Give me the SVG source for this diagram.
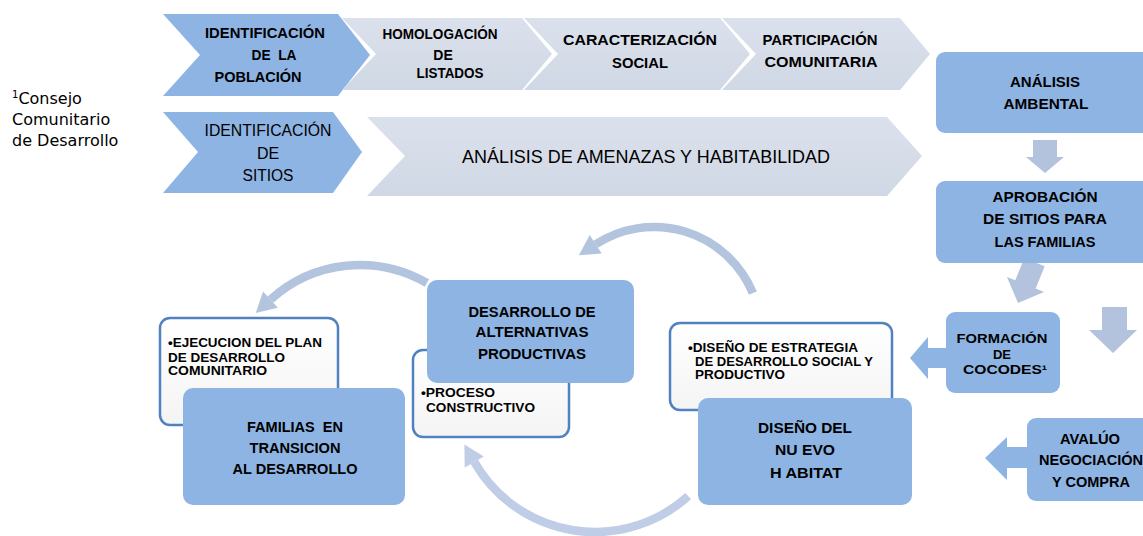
<svg xmlns="http://www.w3.org/2000/svg" width="1143" height="536" viewBox="0 0 1143 536">
<style>
.b{font-family:"Liberation Sans",Arial,sans-serif;font-weight:bold;fill:#000;text-anchor:middle}
.l{font-family:"Liberation Sans",Arial,sans-serif;font-weight:bold;fill:#000}
.n{font-family:"Liberation Sans",Arial,sans-serif;font-weight:normal;fill:#000;text-anchor:middle}
.blue{fill:#8eb4e3}
.gray{fill:url(#gg)}
.wbox{fill:url(#wg);stroke:#5182bf;stroke-width:2.5}
.arc{fill:none;stroke:#b3c4df;stroke-width:8.5}
.arch{fill:#b3c4df}
.arcl{fill:none;stroke:#bfcde6;stroke-width:8.5}
.archl{fill:#bfcde6}
.garr{fill:#b3c3de}
.barr{fill:#8eb4e3}
.note{font-family:"DejaVu Sans",sans-serif;font-size:16px;fill:#000}
</style>
<defs>
<linearGradient id="gg" x1="0" y1="0" x2="0" y2="1"><stop offset="0" stop-color="#dbe1ec"/><stop offset="1" stop-color="#d0d8e5"/></linearGradient>
<linearGradient id="wg" x1="0" y1="0" x2="0" y2="1"><stop offset="0" stop-color="#ffffff"/><stop offset="1" stop-color="#f4f4f4"/></linearGradient>
</defs>

<g id="note">
<text class="note" x="12" y="104"><tspan font-size="10" dy="-6">1</tspan><tspan dy="6">Consejo</tspan></text>
<text class="note" x="12" y="125">Comunitario</text>
<text class="note" x="12" y="146">de Desarrollo</text>
</g>

<g id="chev-identificacion-poblacion">
<polygon class="blue" points="163,14 338,14 370,55 338,96 163,96 200,55"/>
<text class="b" font-size="14.5" x="265" y="38" textLength="120" lengthAdjust="spacingAndGlyphs">IDENTIFICACIÓN</text>
<text class="b" font-size="14.5" x="274" y="60" textLength="45" lengthAdjust="spacingAndGlyphs" xml:space="preserve">DE  LA</text>
<text class="b" font-size="14.5" x="258" y="82" textLength="87" lengthAdjust="spacingAndGlyphs">POBLACIÓN</text>
</g>
<g id="chev-homologacion">
<polygon class="gray" points="342,18 522,18 552,54 522,90 342,90 376,54"/>
<text class="b" font-size="14" x="440" y="39" textLength="115" lengthAdjust="spacingAndGlyphs">HOMOLOGACIÓN</text>
<text class="b" font-size="14" x="443" y="60">DE</text>
<text class="b" font-size="14" x="450" y="78" textLength="67" lengthAdjust="spacingAndGlyphs">LISTADOS</text>
</g>
<g id="chev-caracterizacion">
<polygon class="gray" points="524,18 720,18 750,54 720,90 524,90 558,54"/>
<text class="b" font-size="15" x="640" y="45" textLength="154" lengthAdjust="spacingAndGlyphs">CARACTERIZACIÓN</text>
<text class="b" font-size="15" x="640" y="68" textLength="56" lengthAdjust="spacingAndGlyphs">SOCIAL</text>
</g>
<g id="chev-participacion">
<polygon class="gray" points="722,18 900,18 930,54 900,90 722,90 756,54"/>
<text class="b" font-size="14" x="820" y="45" textLength="115" lengthAdjust="spacingAndGlyphs">PARTICIPACIÓN</text>
<text class="b" font-size="14" x="821" y="67" textLength="113" lengthAdjust="spacingAndGlyphs">COMUNITARIA</text>
</g>
<g id="chev-identificacion-sitios">
<polygon class="blue" points="163,112 333,112 362,152 333,193 163,193 198,152"/>
<text class="n" font-size="16" x="268" y="136" textLength="127" lengthAdjust="spacingAndGlyphs">IDENTIFICACIÓN</text>
<text class="n" font-size="16" x="268" y="159">DE</text>
<text class="n" font-size="16" x="268" y="181" textLength="51" lengthAdjust="spacingAndGlyphs">SITIOS</text>
</g>
<g id="chev-amenazas">
<polygon class="gray" points="367,117 887,117 922,156 887,196 367,196 405,156"/>
<text class="n" font-size="18" x="646" y="163" textLength="368" lengthAdjust="spacingAndGlyphs">ANÁLISIS DE AMENAZAS Y HABITABILIDAD</text>
</g>

<g id="connectors">
<polygon class="garr" points="1033,140 1057,140 1057,157 1064,157 1045,173 1026,157 1033,157"/>
<polygon class="garr" transform="translate(1018,303) rotate(22)" points="-11,-44 11,-44 11,-20 20,-20 0,0 -20,-20 -11,-20"/>
<polygon class="garr" points="1102,307 1127,307 1127,330 1137,330 1113,353 1089,330 1102,330"/>
<polygon class="barr" points="948,348 928,348 928,337 910,358 928,379 928,368 948,368"/>
<polygon class="barr" points="1029,447 1007,447 1007,437 985,458 1007,480 1007,468 1029,468"/>
<path class="arc" d="M752.9,293.1 A107,107 0 0 0 595.7,244.3"/>
<polygon class="arch" points="589.7,235.1 578.9,255.2 601.7,253.5"/>
<path class="arc" d="M426.9,283 A133,133 0 0 0 270.5,299.6"/>
<polygon class="arch" points="263.1,291.5 255.7,313.1 277.9,307.7"/>
<path class="arcl" d="M688.2,496.1 A139,139 0 0 1 474.3,461.9"/>
<polygon class="archl" points="464.7,467.4 464.4,444.5 483.9,456.4"/>
</g>

<g id="analisis-ambiental">
<rect class="blue" x="936" y="52" width="215" height="81" rx="9"/>
<text class="b" font-size="14" x="1045" y="87" textLength="70" lengthAdjust="spacingAndGlyphs">ANÁLISIS</text>
<text class="b" font-size="14" x="1046" y="109" textLength="85" lengthAdjust="spacingAndGlyphs">AMBENTAL</text>
</g>
<g id="aprobacion">
<rect class="blue" x="936" y="181" width="215" height="82" rx="9"/>
<text class="b" font-size="14" x="1045" y="202" textLength="105" lengthAdjust="spacingAndGlyphs">APROBACIÓN</text>
<text class="b" font-size="14" x="1045" y="224" textLength="124" lengthAdjust="spacingAndGlyphs">DE SITIOS PARA</text>
<text class="b" font-size="14" x="1045" y="247" textLength="101" lengthAdjust="spacingAndGlyphs">LAS FAMILIAS</text>
</g>
<g id="formacion">
<rect class="blue" x="946" y="312" width="114" height="81" rx="9"/>
<text class="b" font-size="13" x="1002" y="343" textLength="91" lengthAdjust="spacingAndGlyphs">FORMACIÓN</text>
<text class="b" font-size="13" x="1002" y="359">DE</text>
<text class="b" font-size="13" x="1005" y="374" textLength="84" lengthAdjust="spacingAndGlyphs">COCODES¹</text>
</g>
<g id="avaluo">
<rect class="blue" x="1027" y="418" width="130" height="83" rx="9"/>
<text class="b" font-size="14" x="1090" y="444" textLength="60" lengthAdjust="spacingAndGlyphs">AVALÚO</text>
<text class="b" font-size="14" x="1091" y="465" textLength="104" lengthAdjust="spacingAndGlyphs">NEGOCIACIÓN</text>
<text class="b" font-size="14" x="1091" y="487" textLength="78" lengthAdjust="spacingAndGlyphs">Y COMPRA</text>
</g>

<g id="diseno">
<rect class="wbox" x="670" y="323" width="222" height="87" rx="10"/>
<text class="l" font-size="13" x="688" y="352" textLength="170" lengthAdjust="spacingAndGlyphs">•DISEÑO DE ESTRATEGIA</text>
<text class="l" font-size="13" x="695" y="366" textLength="178" lengthAdjust="spacingAndGlyphs">DE DESARROLLO SOCIAL Y</text>
<text class="l" font-size="13" x="695" y="379" textLength="90" lengthAdjust="spacingAndGlyphs">PRODUCTIVO</text>
<rect class="blue" x="698" y="398" width="214" height="107" rx="10"/>
<text class="b" font-size="14.5" x="805" y="433" textLength="94" lengthAdjust="spacingAndGlyphs">DISEÑO DEL</text>
<text class="b" font-size="14.5" x="805" y="455" textLength="60" lengthAdjust="spacingAndGlyphs">NU EVO</text>
<text class="b" font-size="14.5" x="806" y="478" textLength="72" lengthAdjust="spacingAndGlyphs">H ABITAT</text>
</g>

<g id="desarrollo-alternativas">
<rect class="wbox" x="413" y="350" width="156" height="87" rx="10"/>
<text class="l" font-size="13" x="421" y="397" textLength="74" lengthAdjust="spacingAndGlyphs">•PROCESO</text>
<text class="l" font-size="13" x="426" y="412" textLength="109" lengthAdjust="spacingAndGlyphs">CONSTRUCTIVO</text>
<rect class="blue" x="427" y="280" width="207" height="103" rx="10"/>
<text class="b" font-size="14.5" x="532" y="317" textLength="127" lengthAdjust="spacingAndGlyphs">DESARROLLO DE</text>
<text class="b" font-size="14.5" x="532" y="337" textLength="113" lengthAdjust="spacingAndGlyphs">ALTERNATIVAS</text>
<text class="b" font-size="14.5" x="532" y="359" textLength="108" lengthAdjust="spacingAndGlyphs">PRODUCTIVAS</text>
</g>

<g id="familias">
<rect class="wbox" x="160" y="318" width="178" height="107" rx="10"/>
<text class="l" font-size="13" x="168" y="347" textLength="154" lengthAdjust="spacingAndGlyphs">•EJECUCION DEL PLAN</text>
<text class="l" font-size="13" x="168" y="362" textLength="117" lengthAdjust="spacingAndGlyphs">DE DESARROLLO</text>
<text class="l" font-size="13" x="168" y="375" textLength="99" lengthAdjust="spacingAndGlyphs">COMUNITARIO</text>
<rect class="blue" x="183" y="388" width="222" height="117" rx="10"/>
<text class="b" font-size="14.5" x="295" y="432" textLength="96" lengthAdjust="spacingAndGlyphs" xml:space="preserve">FAMILIAS  EN</text>
<text class="b" font-size="14.5" x="295" y="453" textLength="91" lengthAdjust="spacingAndGlyphs">TRANSICION</text>
<text class="b" font-size="14.5" x="295" y="474" textLength="125" lengthAdjust="spacingAndGlyphs">AL DESARROLLO</text>
</g>
</svg>
